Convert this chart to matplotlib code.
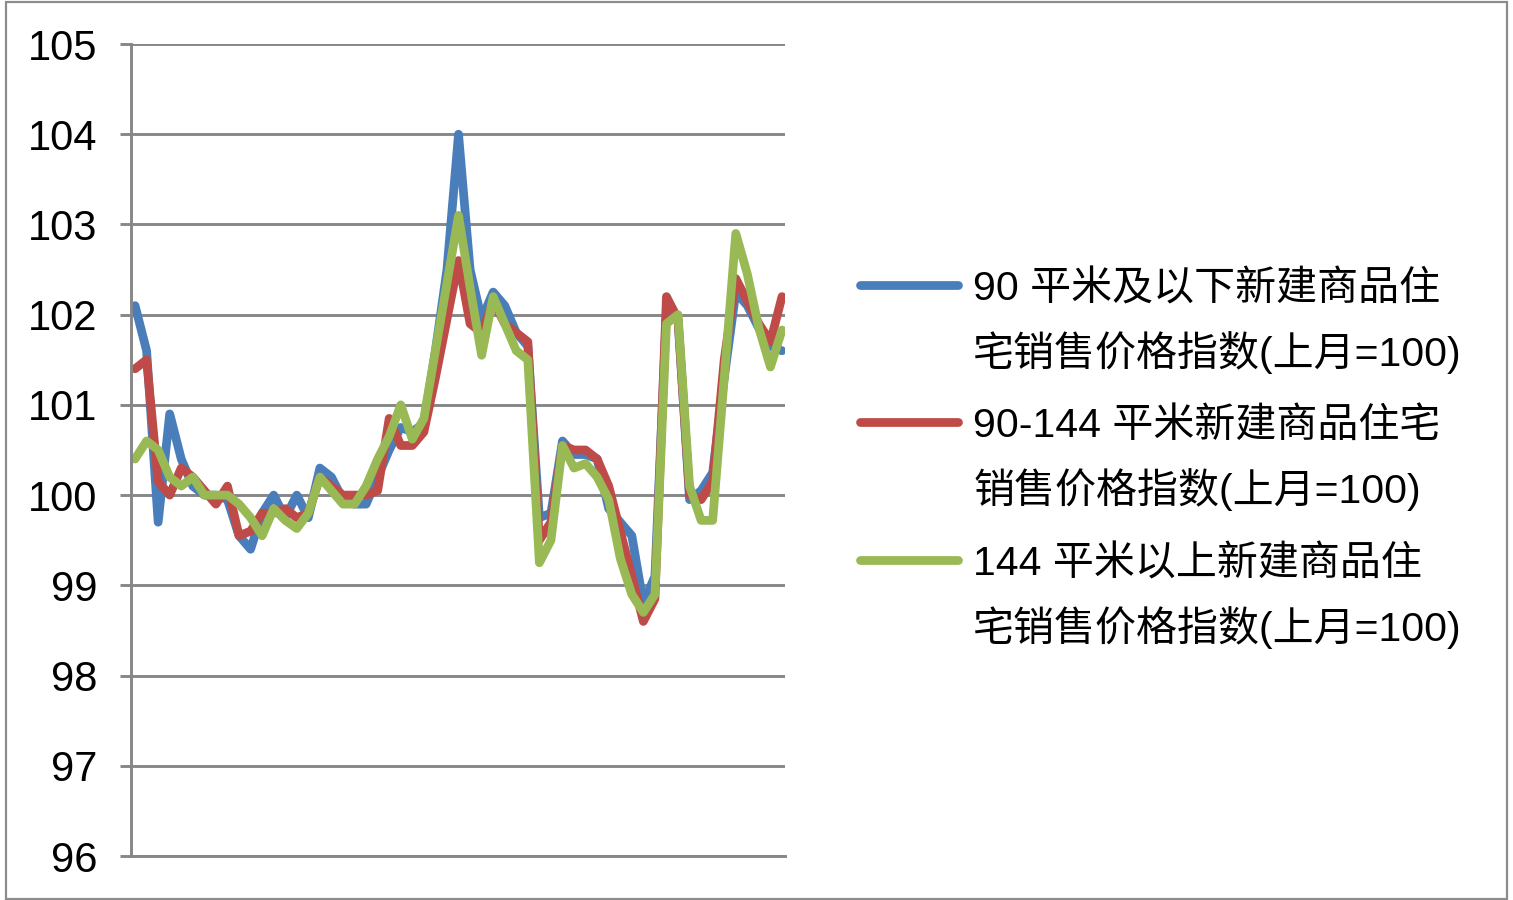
import numpy as np
import matplotlib
matplotlib.use("Agg")
import matplotlib.pyplot as plt
from matplotlib.lines import Line2D
from matplotlib.patches import Rectangle

plt.rcParams['font.family'] = ['Liberation Sans', 'Noto Sans CJK SC', 'DejaVu Sans']

# 新建商品住宅销售价格指数(上月=100), 三个面积段
small = [102.1, 101.6, 99.7, 100.9, 100.4, 100.1, 100.0, 100.0, 99.95, 99.55,
         99.4, 99.8, 100.0, 99.75, 100.0, 99.75, 100.3, 100.2, 99.95, 99.9,
         99.9, 100.2, 100.5, 100.75, 100.7, 100.8, 101.6, 102.5, 104.0, 102.5,
         101.95, 102.25, 102.1, 101.8, 101.65, 99.75, 99.8, 100.6, 100.45, 100.45,
         100.4, 99.85, 99.7, 99.55, 98.8, 99.1, 102.05, 101.95, 99.95, 100.05,
         100.25, 101.3, 102.25, 102.1, 101.85, 101.65, 101.6]
middle = [101.4, 101.5, 100.15, 100.0, 100.3, 100.2, 100.05, 99.9, 100.1, 99.55,
          99.6, 99.8, 99.8, 99.85, 99.75, 99.8, 100.2, 100.1, 100.0, 100.0,
          100.0, 100.05, 100.85, 100.55, 100.55, 100.7, 101.3, 101.95, 102.6, 101.9,
          101.8, 102.15, 101.9, 101.8, 101.7, 99.5, 99.7, 100.55, 100.5, 100.5,
          100.4, 100.1, 99.6, 99.1, 98.6, 98.85, 102.2, 101.95, 100.0, 99.95,
          100.15, 101.5, 102.4, 102.15, 101.9, 101.7, 102.2]
large = [100.4, 100.6, 100.5, 100.2, 100.1, 100.2, 100.0, 100.0, 100.0, 99.9,
         99.75, 99.55, 99.85, 99.72, 99.63, 99.8, 100.2, 100.05, 99.9, 99.9,
         100.1, 100.4, 100.65, 101.0, 100.62, 100.85, 101.6, 102.35, 103.1, 102.3,
         101.55, 102.2, 101.9, 101.6, 101.5, 99.25, 99.5, 100.55, 100.3, 100.35,
         100.2, 99.95, 99.3, 98.9, 98.7, 98.9, 101.9, 102.0, 100.1, 99.72,
         99.72, 101.3, 102.9, 102.45, 101.85, 101.42, 101.83]

labels = [
    ['90 平米及以下新建商品住', '宅销售价格指数(上月=100)'],
    ['90-144 平米新建商品住宅', '销售价格指数(上月=100)'],
    ['144 平米以上新建商品住', '宅销售价格指数(上月=100)'],
]
colors = ['#4A7EBB', '#BE4B48', '#98B954']
yticks = list(range(96, 106))

W, H = 1513, 900
fig = plt.figure(figsize=(W / 100, H / 100), dpi=100)
ax = fig.add_axes([131 / W, 1 - 856 / H, (785 - 131) / W, (856 - 44) / H])

grid_c = '#878787'
x = np.arange(len(small))
for series, c in zip([small, middle, large], colors):
    ax.plot(x, series, color=c, lw=6.3, solid_joinstyle='round', solid_capstyle='round')

ax.set_xlim(-0.35, len(small) - 1 + 0.26)
ax.set_ylim(96, 105)
ax.set_yticks(yticks)
ax.set_yticklabels([str(v) for v in yticks], fontsize=30)
ax.set_xticks([])
ax.yaxis.grid(True, color=grid_c, lw=2.1)
ax.set_axisbelow(True)
ax.tick_params(axis='y', length=8, width=2.1, color=grid_c, pad=16)
for lab in ax.get_yticklabels():
    lab.set_va('center_baseline')
for s in ['top', 'right']:
    ax.spines[s].set_visible(False)
for s in ['left', 'bottom']:
    ax.spines[s].set_color(grid_c)
    ax.spines[s].set_linewidth(2.1)

# 图例 (手动摆放, 每条两行文字)
entry_y = [285, 422, 560]
for (l1, l2), c, yy in zip(labels, colors, entry_y):
    fig.add_artist(Line2D([860 / W, 958 / W], [1 - yy / H, 1 - yy / H],
                          color=c, lw=6.3, solid_capstyle='round'))
    fig.text(973 / W, 1 - (yy + 4) / H, l1, fontsize=29.5, va='center', ha='left')
    fig.text(973 / W, 1 - (yy + 68) / H, l2, fontsize=29.5, va='center', ha='left')

fig.add_artist(Rectangle((6 / W, 1 / H), 1501 / W, 897 / H, transform=fig.transFigure,
                         fill=False, edgecolor='#8c8c8c', lw=1.6))

fig.savefig('out.png', dpi=100)
